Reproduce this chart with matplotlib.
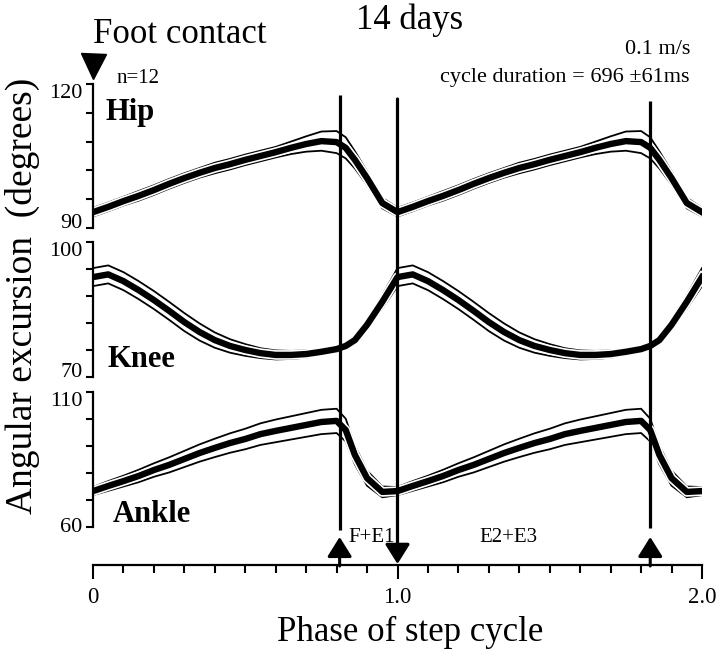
import numpy as np
import matplotlib
matplotlib.use('Agg')
import matplotlib.pyplot as plt
import matplotlib.patheffects as pe

# one mean step cycle (phase 0..1); shown twice
phase = [0, .05, .1, .15, .2, .25, .3, .35, .4, .45, .5, .55, .6, .65,
         .7, .75, .8, .83, .86, .9, .95, 1.0]
hip_mean = [93.3, 94.4, 95.6, 96.7, 97.9, 99.2, 100.4, 101.5, 102.5, 103.3, 104.2,
            105.0, 105.8, 106.7, 107.5, 108.1, 107.9, 106.7, 104.2, 100.4, 95.2, 93.3]
hip_sd = [0.9, 0.9, 0.9, 1.0, 1.0, 1.0, 1.0, 1.0, 1.1, 1.1, 1.1,
          1.1, 1.1, 1.3, 1.6, 2.0, 2.3, 2.2, 1.8, 1.4, 1.1, 0.9]
knee_mean = [92.2, 92.8, 91.3, 89.3, 87.1, 84.7, 82.2, 80.0, 78.2, 76.9, 76.0,
             75.3, 74.9, 74.9, 75.1, 75.6, 76.2, 76.9, 78.2, 81.6, 86.7, 92.2]
knee_sd = [2.0, 2.0, 2.0, 2.0, 2.0, 2.0, 2.0, 1.9, 1.7, 1.5, 1.3,
           1.1, 1.0, 0.9, 0.8, 0.7, 0.6, 0.6, 0.7, 1.0, 1.5, 2.0]
ankle_mean = [73.3, 75.2, 77.0, 78.9, 81.1, 83.0, 85.2, 87.4, 89.3, 91.1, 92.6,
              94.4, 95.6, 96.7, 97.8, 98.9, 99.3, 95.9, 86.7, 78.1, 73.0, 73.3]
ankle_sd = [1.5, 1.8, 2.0, 2.3, 2.5, 2.8, 3.0, 3.2, 3.4, 3.6, 3.8,
            4.0, 4.2, 4.3, 4.4, 4.5, 4.5, 4.2, 3.5, 2.8, 2.0, 1.5]

joint_names = ['Hip', 'Knee', 'Ankle']
joint_limits = [(90, 120), (70, 100), (60, 110)]

swing_onsets = [0.81, 1.83]
stance_onset = 1.0

x_ticks = [0, 1.0, 2.0]
x_tick_labels = ['0', '1.0', '2.0']

W, H = 720, 656
LEFT, RIGHT = 93, 702


def fx(px):
    return px / W


def fy(py):
    return 1 - py / H


def two_cycles(values):
    v = np.asarray(values, dtype=float)
    return np.concatenate([v, v[1:]])


def draw_joint(ax, mean, sd, lim, va_low, va_high):
    x = np.concatenate([np.asarray(phase), np.asarray(phase[1:]) + 1.0])
    m = two_cycles(mean)
    s = two_cycles(sd)
    ax.plot(x, m + s, color='black', lw=1.3)
    ax.plot(x, m - s, color='black', lw=1.3)
    ax.plot(x, m, color='black', lw=4.6, solid_joinstyle='round',
            path_effects=[pe.Stroke(linewidth=7.0, foreground='white'), pe.Normal()])

    ax.set_xlim(0, 2.0)
    ax.set_ylim(*lim)
    ax.patch.set_visible(False)
    for side in ['top', 'right', 'bottom']:
        ax.spines[side].set_visible(False)
    ax.spines['left'].set_linewidth(1.6)
    ax.set_xticks([])
    ax.set_yticks(np.linspace(lim[0], lim[1], 6))
    ax.set_yticklabels([])
    ax.tick_params(axis='y', direction='out', length=5, width=1.5)

    tr = ax.get_yaxis_transform()
    ax.text(-0.017, lim[0], str(lim[0]), transform=tr, ha='right', va=va_low, fontsize=16)
    ax.text(-0.017, lim[1], str(lim[1]), transform=tr, ha='right', va=va_high, fontsize=16)


def main():
    plt.rcParams['font.family'] = ['Liberation Serif', 'DejaVu Serif']
    fig = plt.figure(figsize=(W / 100, H / 100), dpi=100)

    panels = [(84, 228), (242, 377), (392, 527)]
    series = [(hip_mean, hip_sd), (knee_mean, knee_sd), (ankle_mean, ankle_sd)]
    label_va = [('baseline', 'top'), ('baseline', 'top'), ('center', 'top')]
    name_pos = [(105, 120), (107, 367), (113, 522)]

    for (top, bot), (mean, sd), lim, (va_lo, va_hi), name, (nx, ny) in zip(
            panels, series, joint_limits, label_va, joint_names, name_pos):
        ax = fig.add_axes([fx(LEFT), fy(bot), fx(RIGHT - LEFT), (bot - top) / H])
        draw_joint(ax, mean, sd, lim, va_lo, va_hi)
        fig.text(fx(nx), fy(ny), name, fontsize=22, fontweight='bold', va='baseline')

    # x axis
    ax_x = fig.add_axes([fx(LEFT), fy(565), fx(RIGHT - LEFT), 0.0001])
    ax_x.set_xlim(0, 2.0)
    ax_x.patch.set_visible(False)
    for side in ['top', 'right', 'left']:
        ax_x.spines[side].set_visible(False)
    ax_x.spines['bottom'].set_linewidth(1.6)
    ax_x.set_yticks([])
    ax_x.set_xticks(x_ticks)
    ax_x.set_xticklabels(x_tick_labels, fontsize=16.5)
    ax_x.set_xticks(np.arange(0, 2.01, 0.1), minor=True)
    ax_x.tick_params(axis='x', which='major', direction='out', length=10, width=1.5, pad=6)
    ax_x.tick_params(axis='x', which='minor', direction='out', length=6, width=1.5)

    # overlay in pixel y units for event lines and arrows
    ax_o = fig.add_axes([fx(LEFT), 0, fx(RIGHT - LEFT), 1])
    ax_o.set_xlim(0, 2.0)
    ax_o.set_ylim(H, 0)
    ax_o.axis('off')
    ax_o.patch.set_visible(False)

    tops = [95, 101]
    bots = [530, 528]
    for xs, t, b in zip(swing_onsets, tops, bots):
        ax_o.plot([xs, xs], [t, b], color='black', lw=2.3, solid_capstyle='butt')
        ax_o.annotate('', xy=(xs, 537), xytext=(xs, 566),
                      arrowprops=dict(arrowstyle='-|>,head_length=1.2,head_width=0.75',
                                      mutation_scale=10, color='black', lw=2.2,
                                      shrinkA=0, shrinkB=0))
    ax_o.annotate('', xy=(stance_onset, 564), xytext=(stance_onset, 99),
                  arrowprops=dict(arrowstyle='-|>,head_length=1.2,head_width=0.75',
                                  mutation_scale=10, color='black', lw=2.3,
                                  shrinkA=0, shrinkB=0))
    ax_o.plot(0, 66, marker='v', ms=18, color='black', clip_on=False)

    fig.text(fx(372), fy(537), 'F+E1', fontsize=15, ha='center', va='center')
    fig.text(fx(508), fy(537), 'E2+E3', fontsize=15, ha='center', va='center')

    fig.text(fx(180), fy(43), 'Foot contact', fontsize=25, ha='center', va='baseline')
    fig.text(fx(410), fy(29), '14 days', fontsize=25, ha='center', va='baseline')
    fig.text(fx(690), fy(54), '0.1 m/s', fontsize=16, ha='right', va='baseline')
    fig.text(fx(690), fy(82), 'cycle duration = 696 \u00b161ms', fontsize=16,
             ha='right', va='baseline')
    fig.text(fx(117), fy(83), 'n=12', fontsize=15, ha='left', va='baseline')

    fig.text(fx(22), fy(296), 'Angular excursion  (degrees)', fontsize=27,
             rotation=90, ha='center', va='center')
    fig.text(fx(410), fy(632), 'Phase of step cycle', fontsize=25,
             ha='center', va='center')

    fig.savefig('out.png', dpi=100)


if __name__ == "__main__":
    main()
